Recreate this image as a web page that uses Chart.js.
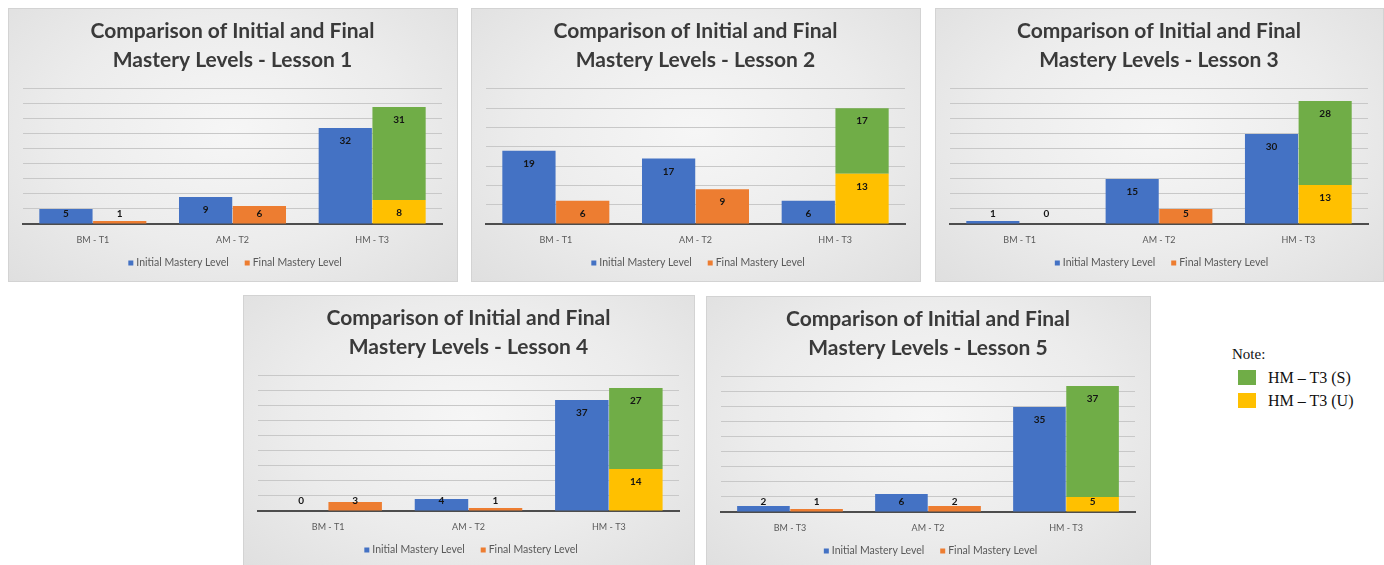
<!DOCTYPE html>
<html>
<head>
<meta charset="utf-8">
<script src="https://cdn.jsdelivr.net/npm/chart.js@4/dist/chart.umd.min.js"></script>
<style>
  html, body { margin: 0; padding: 0; background: #fff; }
  body { width: 1384px; height: 565px; position: relative; overflow: hidden; }
  .box {
    position: absolute; height: 274px;
    background: radial-gradient(ellipse at 50% 45%, #f6f6f6 0%, #ececec 55%, #dfdfdf 100%);
    border: 1px solid #d3d3d3; box-sizing: border-box;
  }
  #b1 { left: 8px; top: 8px; width: 450px; }
  #b2 { left: 471px; top: 8px; width: 450px; }
  #b3 { left: 935px; top: 8px; width: 449px; }
  #b4 { left: 243px; top: 295px; width: 452px; }
  #b5 { left: 706px; top: 296px; width: 445px; }
  .box canvas { position: absolute; left: 0; top: 0; }
  #note { position: absolute; left: 1232px; top: 346px; font-family: "Liberation Serif", serif; color: #111; }
  #note .head { font-size: 15px; margin-bottom: 3px; }
  #note .row { display: flex; align-items: center; height: 23px; font-size: 16px; padding-left: 6px; }
  #note .sw { width: 18px; height: 15px; margin-right: 12px; }
</style>
</head>
<body>
<div class="box" id="b1"><canvas id="c1"></canvas></div>
<div class="box" id="b2"><canvas id="c2"></canvas></div>
<div class="box" id="b3"><canvas id="c3"></canvas></div>
<div class="box" id="b4"><canvas id="c4"></canvas></div>
<div class="box" id="b5"><canvas id="c5"></canvas></div>
<div id="note">
  <div class="head">Note:</div>
  <div class="row"><span class="sw" style="background:#70AD47"></span>HM – T3 (S)</div>
  <div class="row"><span class="sw" style="background:#FFC000"></span>HM – T3 (U)</div>
</div>
<script>
// categories per lesson (lesson 5 label reads "BM - T3" in the source)
const categories = ["BM - T1", "AM - T2", "HM - T3"];
const categoriesLesson5 = ["BM - T3", "AM - T2", "HM - T3"];
const lessons = ["Lesson 1", "Lesson 2", "Lesson 3", "Lesson 4", "Lesson 5"];

// initial mastery level: BM, AM, HM for each lesson
const initialMastery = [[5, 9, 32], [19, 17, 6], [1, 15, 30], [0, 4, 37], [2, 6, 35]];
// final mastery level: BM, AM for each lesson
const finalMastery = [[1, 6], [6, 9], [0, 5], [3, 1], [1, 2]];
// final HM split: unsuccessful (U) and successful (S)
const finalHmU = [8, 13, 13, 14, 5];
const finalHmS = [31, 17, 28, 27, 37];
const yMax = [45, 35, 45, 45, 45];

const blue = "#4472C4", orange = "#ED7D31", green = "#70AD47", yellow = "#FFC000";
const font = "Lato, 'Open Sans', sans-serif";

const valueLabels = {
    id: "valueLabels",
    afterDatasetsDraw(chart) {
        const ctx = chart.ctx;
        ctx.save();
        ctx.font = "bold 10px " + font;
        ctx.fillStyle = "#141414";
        ctx.textAlign = "center";
        ctx.textBaseline = "middle";
        chart.data.datasets.forEach((ds, di) => {
            const meta = chart.getDatasetMeta(di);
            meta.data.forEach((bar, i) => {
                const v = ds.data[i];
                if (v === null || v === undefined) return;
                const y = Math.min(bar.y + 13, bar.base - 10);
                ctx.fillText(String(v), bar.x, y);
            });
        });
        ctx.restore();
    }
};

// legend under the axis, only the two main series
const bottomLegend = {
    id: "bottomLegend",
    afterDraw(chart) {
        const ctx = chart.ctx;
        const items = chart.data.datasets.slice(0, 2);
        ctx.save();
        ctx.font = "10.5px " + font;
        ctx.textBaseline = "middle";
        const box = 5, gap = 3, space = 16;
        const widths = items.map(d => box + gap + ctx.measureText(d.label).width);
        const total = widths.reduce((a, b) => a + b, 0) + space * (items.length - 1);
        let x = chart.width / 2 - total / 2 + 2;
        const y = chart.chartArea.bottom + 39;
        items.forEach((d, i) => {
            ctx.fillStyle = d.backgroundColor;
            ctx.fillRect(x, y - box / 2, box, box);
            ctx.fillStyle = "#595959";
            ctx.fillText(d.label, x + box + gap, y);
            x += widths[i] + space;
        });
        ctx.restore();
    }
};

function makeChart(n) {
    const box = document.getElementById("b" + (n + 1));
    const canvas = document.getElementById("c" + (n + 1));
    canvas.width = box.clientWidth;
    canvas.height = box.clientHeight;

    const labels = n === 4 ? categoriesLesson5 : categories;
    const fin = finalMastery[n];

    new Chart(canvas.getContext("2d"), {
        type: "bar",
        data: {
            labels: labels,
            datasets: [
                { label: "Initial Mastery Level", data: initialMastery[n], backgroundColor: blue, stack: "i" },
                { label: "Final Mastery Level", data: [fin[0], fin[1], null], backgroundColor: orange, stack: "f" },
                { label: "HM – T3 (U)", data: [null, null, finalHmU[n]], backgroundColor: yellow, stack: "f" },
                { label: "HM – T3 (S)", data: [null, null, finalHmS[n]], backgroundColor: green, stack: "f" }
            ]
        },
        options: {
            responsive: false,
            animation: false,
            devicePixelRatio: 1,
            layout: { padding: { left: 14, right: 15, top: 0, bottom: 30 } },
            datasets: { bar: { categoryPercentage: 0.77, barPercentage: 0.99 } },
            plugins: {
                tooltip: { enabled: false },
                legend: { display: false },
                title: {
                    display: true,
                    text: ["Comparison of Initial and Final", "Mastery Levels - " + lessons[n]],
                    color: "#3a3a3a",
                    font: { family: font, size: 21, weight: "bold", lineHeight: 1.38 },
                    padding: { top: 8, bottom: 14 }
                }
            },
            scales: {
                x: {
                    stacked: true,
                    grid: { display: false, drawTicks: false },
                    border: { color: "#4d4d4d", width: 2 },
                    ticks: { color: "#595959", padding: 11, font: { family: font, size: 9 } },
                    afterFit: scale => { scale.height = 27; }
                },
                y: {
                    stacked: true,
                    min: 0, max: yMax[n],
                    ticks: { display: false, stepSize: 5 },
                    border: { display: false },
                    grid: { color: "#c8c8c8", drawTicks: false }
                }
            }
        },
        plugins: [valueLabels, bottomLegend]
    });
}

for (let i = 0; i < lessons.length; i++) makeChart(i);
</script>
</body>
</html>
